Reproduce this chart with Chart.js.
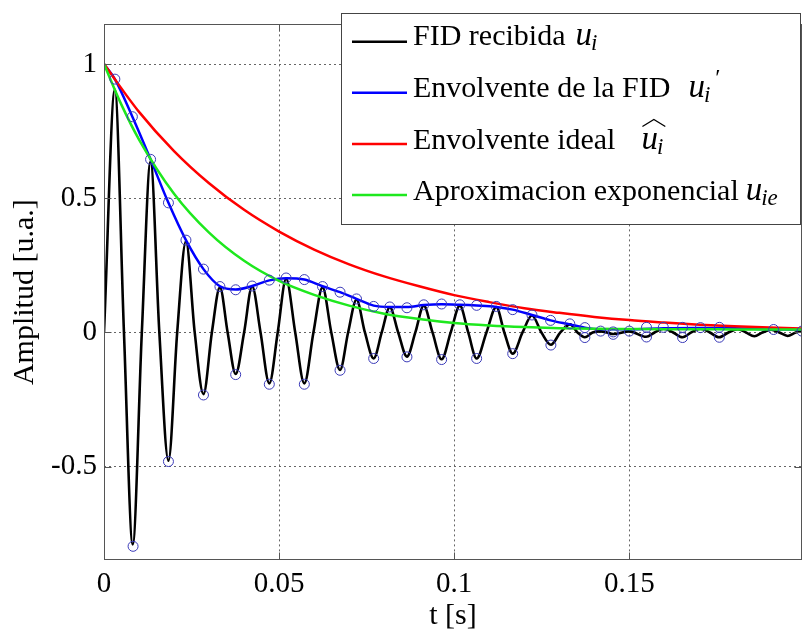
<!DOCTYPE html>
<html><head><meta charset="utf-8">
<script src="https://cdn.jsdelivr.net/npm/chart.js@4"></script>
<style>html,body{margin:0;padding:0;background:#fff}#wrap{width:808px;height:637px;position:relative}</style>
</head><body><div id="wrap"><canvas id="c" width="808" height="637"></canvas></div>
<script>
// ---- data ----
const fidT = [0,0.0031,0.0057,0.0082,0.0108,0.0133,0.0158,0.0184,0.0209,0.0234,0.0259,0.0284,0.0308,0.0331,0.0353,0.0376,0.0400,0.0423,0.0447,0.0472,0.0496,0.0520,0.0546,0.0572,0.0598,0.0624,0.0649,0.0674,0.0697,0.0721,0.0745,0.0770,0.0793,0.0816,0.0840,0.0865,0.0889,0.0913,0.0938,0.0964,0.0990,0.1016,0.1040,0.1064,0.1092,0.1120,0.1143,0.1167,0.1195,0.1222,0.1249,0.1276,0.1303,0.1331,0.1352,0.1373,0.1395,0.1418,0.1436,0.1454,0.1500,0.1548,0.1572,0.1598,0.1625,0.1652,0.1677,0.1703,0.1730,0.1756,0.1783,0.1810,0.1833,0.1857,0.1880,0.1905,0.1928,0.1952,0.1975,0.2000];
const fidY = [0,0.905,0,-0.79,0,0.637,0,-0.478,0,0.34,0,-0.23,0,0.168,0,-0.155,0,0.172,0,-0.19,0,0.2,0,-0.19,0,0.168,0,-0.14,0,0.122,0,-0.097,0,0.094,0,-0.09,0,0.1,0,-0.1,0,0.1,0,-0.097,0,0.095,0,-0.079,0,0.063,0,-0.046,0,0.03,0,-0.018,0,0.004,0,-0.006,0.004,-0.016,0,0.014,0,-0.018,0,0.014,0,-0.018,0,0.012,0,-0.014,0,0.01,0,-0.013,0,0.006];

const envT = [0,0.0031,0.0081,0.0133,0.0184,0.0234,0.0284,0.0331,0.0376,0.0423,0.0472,0.0520,0.0572,0.0624,0.0674,0.0721,0.0770,0.0816,0.0865,0.0913,0.0964,0.1016,0.1064,0.1120,0.1167,0.1222,0.1275,0.1330,0.1373,0.1418,0.1500,0.1600,0.1700,0.1800,0.1900,0.2000];
const envY = [1,0.944,0.804,0.645,0.483,0.344,0.236,0.172,0.16,0.173,0.194,0.202,0.197,0.172,0.15,0.125,0.1,0.095,0.095,0.102,0.105,0.103,0.1,0.095,0.085,0.065,0.045,0.03,0.018,0.012,0.012,0.016,0.017,0.016,0.012,0.01];

const idealT = [0,0.01,0.02,0.03,0.04,0.05,0.06,0.07,0.08,0.09,0.10,0.11,0.12,0.13,0.14,0.15,0.16,0.17,0.18,0.19,0.20];
const idealY = [1,0.822,0.676,0.556,0.457,0.376,0.309,0.254,0.209,0.172,0.139,0.113,0.09,0.073,0.058,0.046,0.037,0.029,0.023,0.018,0.014];

const expT = [0,0.005,0.01,0.02,0.03,0.04,0.05,0.06,0.07,0.08,0.09,0.10,0.11,0.12,0.13,0.14,0.15,0.16,0.17,0.18,0.19,0.20];
const expY = [1,0.848,0.719,0.517,0.372,0.267,0.192,0.14,0.1,0.07,0.05,0.035,0.026,0.02,0.016,0.014,0.013,0.012,0.012,0.011,0.011,0.011];

const markT = [0.0031,0.0081,0.0133,0.0184,0.0234,0.0284,0.0331,0.0376,0.0423,0.0472,0.0520,0.0572,0.0624,0.0674,0.0721,0.0770,0.0816,0.0865,0.0913,0.0964,0.1016,0.1064,0.1120,0.1167,0.1222,0.1275,0.1330,0.1373,0.1418,0.1454,0.1500,0.1549,0.1597,0.1652,0.1703,0.1757,0.1912,0.1993,
               0.0083,0.0184,0.0284,0.0376,0.0472,0.0572,0.0674,0.0770,0.0865,0.0964,0.1064,0.1167,0.1276,0.1373,0.1454,0.1549,0.1652,0.1757];
const markY = [0.944,0.804,0.645,0.483,0.344,0.236,0.171,0.159,0.173,0.195,0.203,0.197,0.171,0.15,0.125,0.097,0.095,0.092,0.103,0.106,0.103,0.101,0.097,0.085,0.065,0.045,0.032,0.018,0.005,0.002,0.005,0.019,0.019,0.019,0.018,0.019,0.011,0.005,
               -0.797,-0.481,-0.233,-0.157,-0.193,-0.193,-0.141,-0.097,-0.091,-0.101,-0.097,-0.079,-0.047,-0.019,-0.007,-0.017,-0.019,-0.018];

const xTicks = [0,0.05,0.1,0.15];
const xTickLabels = ['0','0.05','0.1','0.15'];
const yTicks = [-0.5,0,0.5,1];
const yTickLabels = ['-0.5','0','0.5','1'];
const legendLabels = ['FID recibida','Envolvente de la FID','Envolvente ideal','Aproximacion exponencial'];
const legendColors = ['#000000','#0000ff','#ff0000','#1ee81e'];

// ---- build library data ----
const pts = (t, y) => t.map((v, i) => ({x: v, y: y[i]}));
const SERIF = "'Liberation Serif','Times New Roman',serif";

const axesBox = {
  id: 'axesBox',
  afterDatasetsDraw(chart) {
    const {ctx, chartArea: a, scales} = chart;
    ctx.save();
    ctx.strokeStyle = '#555';
    ctx.lineWidth = 1;
    const L = Math.round(a.left) + 0.5, R = Math.round(a.right) - 0.5, T = Math.round(a.top) + 0.5, B = Math.round(a.bottom) - 0.5;
    ctx.strokeRect(L, T, R - L, B - T);
    ctx.beginPath();
    const tl = 7;
    xTicks.forEach(v => {
      const p = Math.round(scales.x.getPixelForValue(v)) + 0.5;
      ctx.moveTo(p, B); ctx.lineTo(p, B - tl);
      ctx.moveTo(p, T); ctx.lineTo(p, T + tl);
    });
    yTicks.forEach(v => {
      const p = Math.round(scales.y.getPixelForValue(v)) + 0.5;
      ctx.moveTo(L, p); ctx.lineTo(L + tl, p);
      ctx.moveTo(R, p); ctx.lineTo(R - tl, p);
    });
    ctx.stroke();
    ctx.restore();
  }
};

const mathLegend = {
  id: 'mathLegend',
  afterDraw(chart) {
    const ctx = chart.ctx;
    const box = {x: 341, y: 13, w: 459, h: 211};
    ctx.save();
    ctx.fillStyle = '#fff';
    ctx.fillRect(box.x, box.y, box.w, box.h);
    ctx.strokeStyle = '#444';
    ctx.lineWidth = 1;
    ctx.strokeRect(box.x + 0.5, box.y + 0.5, box.w, box.h);
    const lineY = [41.7, 92.7, 144, 195];
    const baseY = [45, 97, 148.5, 200];
    const gaps = [10, 18, 26, 7];
    const mainFont = '30px ' + SERIF;
    const uFont = 'italic 33px ' + SERIF;
    const subFont = 'italic 23px ' + SERIF;
    for (let i = 0; i < 4; i++) {
      ctx.strokeStyle = legendColors[i];
      ctx.lineWidth = 2.5;
      ctx.beginPath(); ctx.moveTo(352, lineY[i]); ctx.lineTo(407, lineY[i]); ctx.stroke();
      ctx.fillStyle = '#000';
      ctx.textBaseline = 'alphabetic';
      ctx.textAlign = 'left';
      ctx.font = mainFont;
      const tx = 413;
      ctx.fillText(legendLabels[i], tx, baseY[i]);
      const ux = tx + ctx.measureText(legendLabels[i]).width + gaps[i];
      ctx.font = uFont;
      ctx.fillText('u', ux, baseY[i]);
      const uw = ctx.measureText('u').width;
      ctx.font = subFont;
      const sub = i === 3 ? 'ie' : 'i';
      ctx.fillText(sub, ux + uw - 1, baseY[i] + 5);
      const sw = ctx.measureText(sub).width;
      if (i === 1) {
        ctx.font = '24px ' + SERIF;
        ctx.fillText('\u2032', ux + uw + sw + 4, baseY[i] - 12);
      }
      if (i === 2) {
        ctx.strokeStyle = '#000';
        ctx.lineWidth = 1.3;
        ctx.beginPath();
        ctx.moveTo(ux + 1, baseY[i] - 22);
        ctx.lineTo(ux + (uw + sw) / 2 + 1, baseY[i] - 29);
        ctx.lineTo(ux + uw + sw + 1, baseY[i] - 22);
        ctx.stroke();
      }
    }
    ctx.restore();
  }
};

new Chart(document.getElementById('c'), {
  type: 'line',
  data: {
    datasets: [
      {label: 'marks', data: pts(markT, markY), showLine: false, pointRadius: 5, pointHoverRadius: 5, pointStyle: 'circle', pointBorderColor: '#3a3ab8', pointBackgroundColor: 'rgba(0,0,0,0)', pointBorderWidth: 1, order: 1},
      {label: legendLabels[3], data: pts(expT, expY), borderColor: legendColors[3], borderWidth: 2.5, pointRadius: 0, cubicInterpolationMode: 'monotone', order: 2},
      {label: legendLabels[2], data: pts(idealT, idealY), borderColor: legendColors[2], borderWidth: 2.5, pointRadius: 0, cubicInterpolationMode: 'monotone', order: 3},
      {label: legendLabels[1], data: pts(envT, envY), borderColor: legendColors[1], borderWidth: 2.5, pointRadius: 0, cubicInterpolationMode: 'monotone', order: 4},
      {label: legendLabels[0], data: pts(fidT, fidY), borderColor: legendColors[0], borderWidth: 2.6, pointRadius: 0, cubicInterpolationMode: 'monotone', order: 5}
    ]
  },
  options: {
    responsive: false,
    animation: false,
    devicePixelRatio: 1,
    layout: {padding: {top: 6, right: 1, bottom: 0, left: 0}},
    plugins: {legend: {display: false}, tooltip: {enabled: false}},
    scales: {
      x: {
        type: 'linear', min: 0, max: 0.1993,
        afterBuildTicks: s => { s.ticks = xTicks.map(v => ({value: v})); },
        afterFit: s => { s.height = 77; },
        ticks: {font: {family: SERIF, size: 29}, color: '#000', padding: 7, maxRotation: 0, autoSkip: false,
                callback: v => { const i = xTicks.indexOf(v); return i >= 0 ? xTickLabels[i] : ''; }},
        grid: {color: '#666', lineWidth: 1, drawTicks: false},
        border: {display: false, dash: [2, 3]},
        title: {display: true, text: 't [s]', font: {family: SERIF, size: 30}, color: '#000', padding: {top: 0, bottom: 3}}
      },
      y: {
        type: 'linear', min: -0.848, max: 1.148,
        afterBuildTicks: s => { s.ticks = yTicks.map(v => ({value: v})); },
        afterFit: s => { s.width = 104; },
        ticks: {font: {family: SERIF, size: 29}, color: '#000', padding: 7, autoSkip: false,
                callback: v => { const i = yTicks.indexOf(v); return i >= 0 ? yTickLabels[i] : ''; }},
        grid: {color: '#666', lineWidth: 1, drawTicks: false},
        border: {display: false, dash: [2, 3]},
        title: {display: true, text: 'Amplitud [u.a.]', font: {family: SERIF, size: 30}, color: '#000', padding: {top: 7, bottom: 0}}
      }
    }
  },
  plugins: [axesBox, mathLegend]
});
</script>
</body></html>
